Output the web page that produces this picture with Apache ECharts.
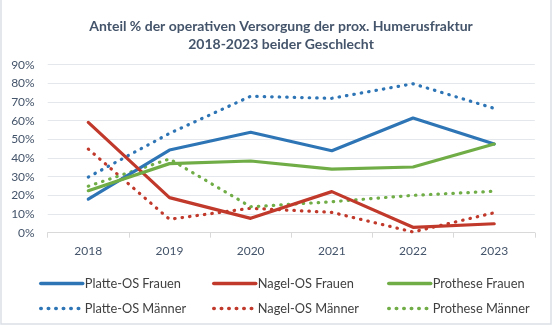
<!DOCTYPE html>
<html>
<head>
<meta charset="utf-8">
<script src="https://cdn.jsdelivr.net/npm/echarts@6/dist/echarts.min.js"></script>
<style>
html,body{margin:0;padding:0;background:#fff;}
#c{width:554px;height:327px;}
</style>
</head>
<body>
<div id="c"></div>
<script>
var years = ['2018','2019','2020','2021','2022','2023'];
var platteFrauen  = [18.0, 44.3, 53.8, 43.9, 61.4, 47.5];
var nagelFrauen   = [59.1, 18.8,  7.7, 22.0,  2.9,  4.8];
var protheseFrauen= [22.5, 37.0, 38.4, 34.1, 35.2, 47.5];
var platteMaenner = [29.8, 53.2, 73.1, 72.0, 79.8, 66.6];
var nagelMaenner  = [44.8,  7.2, 13.1, 10.9,  0.4, 10.7];
var protheseMaenner=[24.9, 39.5, 13.9, 16.6, 20.0, 22.2];
var yTicks = [0,10,20,30,40,50,60,70,80,90];

var BLUE='#2E75B6', RED='#C0392B', GREEN='#70AD47';
var FONT='Lato';
var chart = echarts.init(document.getElementById('c'), null, {renderer:'canvas'});

function solid(name, data, color){
  return {name:name, type:'line', data:data, symbol:'none', smooth:false,
    lineStyle:{color:color, width:3.2, cap:'round', join:'round'}, itemStyle:{color:color}, z:3};
}
function dotted(name, data, color){
  return {name:name, type:'line', data:data, symbol:'none', smooth:false,
    lineStyle:{color:color, width:3.2, type:[0.5,7], cap:'round'}, itemStyle:{color:color}, z:2};
}
function leg(name, left, top){
  return {data:[name], left:left, top:top, itemWidth:42, itemHeight:14, itemGap:0,
    itemStyle:{opacity:0}, lineStyle:{width:3.5},
    textStyle:{fontFamily:FONT, fontSize:12.8, color:'#404040', padding:[0,0,0,-3]}, padding:0};
}
var option = {
  animation:false,
  backgroundColor:'#fff',
  title:{text:'Anteil % der operativen Versorgung der prox. Humerusfraktur\n2018-2023 beider Geschlecht',
    left:276, top:12, textAlign:'center',
    textStyle:{fontFamily:FONT, fontWeight:'bold', fontSize:14, color:'#44546A', lineHeight:18}},
  grid:{left:47.7, right:19.2, top:64.7, bottom:94.3, containLabel:false},
  xAxis:{type:'category', data:years, boundaryGap:true,
    axisLine:{lineStyle:{color:'#D9D9D9', width:1}},
    axisTick:{show:true, length:5, lineStyle:{color:'#D9D9D9'}},
    axisLabel:{fontFamily:FONT, fontSize:12, color:'#44546A', margin:12}},
  yAxis:{type:'value', min:0, max:90, interval:10,
    axisLine:{show:false}, axisTick:{show:false},
    splitLine:{lineStyle:{color:'#E4E7EB', width:1}},
    axisLabel:{fontFamily:FONT, fontSize:12, color:'#44546A', margin:13,
      formatter:function(v){return yTicks.indexOf(v)>=0 ? v+'%' : '';}}},
  legend:[
    leg('Platte-OS Frauen',39,277), leg('Nagel-OS Frauen',212,277), leg('Prothese Frauen',387,277),
    leg('Platte-OS Männer',39,302), leg('Nagel-OS Männer',212,302), leg('Prothese Männer',387,302)
  ],
  series:[
    solid('Platte-OS Frauen', platteFrauen, BLUE),
    solid('Nagel-OS Frauen', nagelFrauen, RED),
    solid('Prothese Frauen', protheseFrauen, GREEN),
    dotted('Platte-OS Männer', platteMaenner, BLUE),
    dotted('Nagel-OS Männer', nagelMaenner, RED),
    dotted('Prothese Männer', protheseMaenner, GREEN)
  ],
  graphic:[{type:'rect', shape:{x:1, y:-2, width:550, height:326},
    style:{fill:null, stroke:'#DCE1E7', lineWidth:1.5}, silent:true, z:-1}]
};
chart.setOption(option);
</script>
</body>
</html>
